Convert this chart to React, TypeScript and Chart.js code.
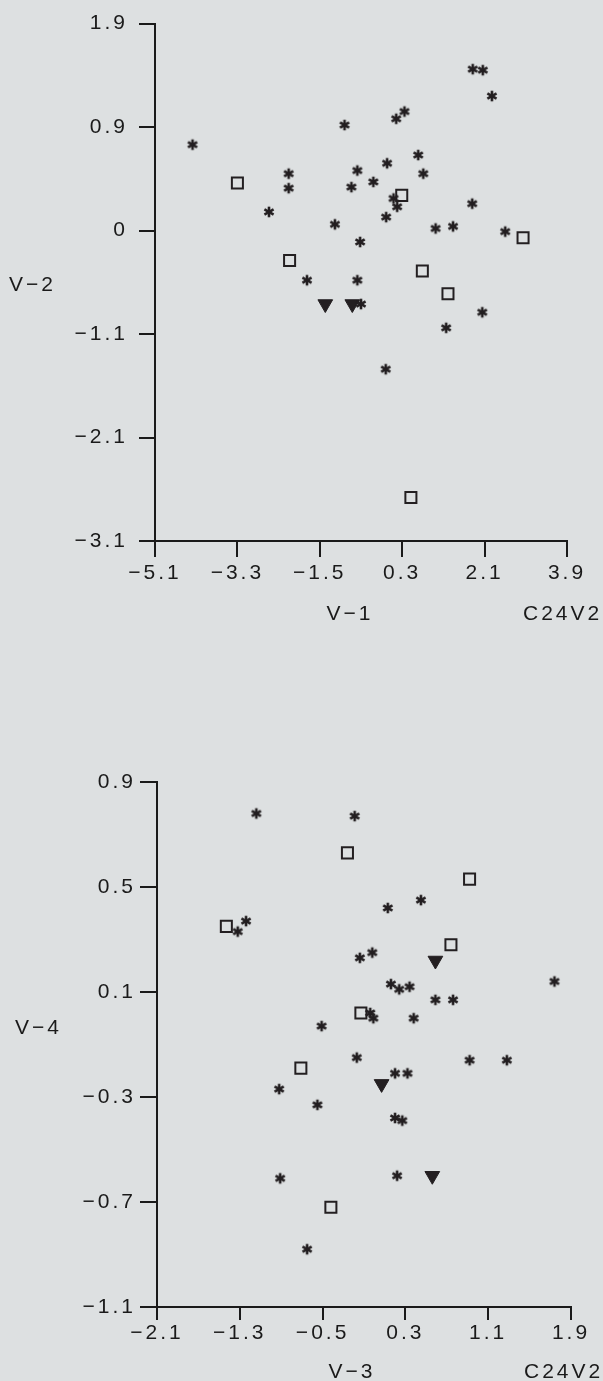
import { useEffect, useRef } from 'react';
import { Chart, registerables } from 'chart.js';

Chart.register(...registerables);

// ---------- V-1 / V-2 plane ----------
const v1v2Stars: [number, number][] = [
  [-4.28, 0.73], [-0.96, 0.92], [0.17, 0.98], [0.35, 1.05], [1.84, 1.46],
  [2.06, 1.45], [2.26, 1.2], [-2.18, 0.45], [-2.18, 0.31], [-0.68, 0.48],
  [-0.03, 0.55], [0.65, 0.63], [0.76, 0.45], [-0.33, 0.37], [-0.81, 0.32],
  [0.11, 0.21], [0.19, 0.13], [-0.05, 0.03], [-2.61, 0.08], [-1.17, -0.04],
  [1.83, 0.16], [1.03, -0.08], [1.41, -0.06], [2.55, -0.11], [-0.62, -0.21],
  [-1.78, -0.58], [-0.68, -0.58], [-0.6, -0.81], [2.05, -0.89], [1.26, -1.04],
  [-0.06, -1.44],
];
const v1v2Squares: [number, number][] = [
  [-3.3, 0.36], [0.29, 0.24], [2.94, -0.17], [-2.16, -0.39], [0.74, -0.49],
  [1.3, -0.71], [0.49, -2.68],
];
const v1v2Triangles: [number, number][] = [
  [-1.38, -0.81], [-0.79, -0.81],
];
const v1Ticks = [-5.1, -3.3, -1.5, 0.3, 2.1, 3.9];
const v1TickLabels = ['−5.1', '−3.3', '−1.5', '0.3', '2.1', '3.9'];
const v2Ticks = [-3.1, -2.1, -1.1, -0.1, 0.9, 1.9];
const v2TickLabels = ['−3.1', '−2.1', '−1.1', '0', '0.9', '1.9'];

// ---------- V-3 / V-4 plane ----------
const v3v4Stars: [number, number][] = [
  [-1.14, 0.78], [-0.19, 0.77], [-1.24, 0.37], [-1.32, 0.33], [0.13, 0.42],
  [0.45, 0.45], [-0.14, 0.23], [-0.02, 0.25], [0.16, 0.13], [0.24, 0.11],
  [0.34, 0.12], [0.59, 0.07], [0.76, 0.07], [-0.04, 0.02], [-0.01, 0.0],
  [0.38, 0.0], [-0.51, -0.03], [1.74, 0.14], [-0.17, -0.15], [0.2, -0.21],
  [0.32, -0.21], [0.92, -0.16], [1.28, -0.16], [-0.92, -0.27], [-0.55, -0.33],
  [0.2, -0.38], [0.27, -0.39], [-0.91, -0.61], [0.22, -0.6], [-0.65, -0.88],
];
const v3v4Squares: [number, number][] = [
  [-0.26, 0.63], [0.92, 0.53], [-1.43, 0.35], [0.74, 0.28], [-0.13, 0.02],
  [-0.71, -0.19], [-0.42, -0.72],
];
const v3v4Triangles: [number, number][] = [
  [0.59, 0.22], [0.07, -0.25], [0.56, -0.6],
];
const v3Ticks = [-2.1, -1.3, -0.5, 0.3, 1.1, 1.9];
const v3TickLabels = ['−2.1', '−1.3', '−0.5', '0.3', '1.1', '1.9'];
const v4Ticks = [-1.1, -0.7, -0.3, 0.1, 0.5, 0.9];
const v4TickLabels = ['−1.1', '−0.7', '−0.3', '0.1', '0.5', '0.9'];

const INK = '#231f21';
const AXIS = '#1a1a1a';
const PAPER = '#dde0e1';
const FONT = "'Liberation Sans', Arial, Helvetica, sans-serif";
const FONT_SIZE = 21;

// six-armed asterisk used for the main group
function asteriskMarker(): HTMLCanvasElement {
  const c = document.createElement('canvas');
  c.width = 14;
  c.height = 14;
  const g = c.getContext('2d')!;
  g.strokeStyle = INK;
  g.lineWidth = 2.6;
  const r = 5.3;
  for (const deg of [90, 30, 150]) {
    const a = (deg * Math.PI) / 180;
    g.beginPath();
    g.moveTo(7 - r * Math.cos(a), 7 - r * Math.sin(a));
    g.lineTo(7 + r * Math.cos(a), 7 + r * Math.sin(a));
    g.stroke();
  }
  return c;
}

type TitleSpec = { text: string; x: number; y: number; align: CanvasTextAlign };

type PanelSpec = {
  top: number;
  height: number;
  stars: [number, number][];
  squares: [number, number][];
  triangles: [number, number][];
  xTicks: number[];
  xLabels: string[];
  yTicks: number[];
  yLabels: string[];
  area: { left: number; top: number; right: number; bottom: number };
  xTickLen: number;
  yTickLen: number;
  xPad: number;
  yPad: number;
  titles: TitleSpec[];
};

const toPoints = (arr: [number, number][]) => arr.map(([x, y]) => ({ x, y }));

function Panel({ spec }: { spec: PanelSpec }) {
  const ref = useRef<HTMLCanvasElement | null>(null);

  useEffect(() => {
    const canvas = ref.current;
    if (!canvas) return;
    const W = 603;
    const xBoxH = 60;
    const { area } = spec;

    const textPlugin = {
      id: 'panelText',
      beforeDraw(chart: any) {
        chart.ctx.letterSpacing = '3px';
      },
      afterDraw(chart: any) {
        const ctx = chart.ctx as CanvasRenderingContext2D;
        ctx.save();
        (ctx as any).letterSpacing = '3px';
        ctx.font = `${FONT_SIZE}px ${FONT}`;
        ctx.fillStyle = AXIS;
        ctx.textBaseline = 'middle';
        for (const t of spec.titles) {
          ctx.textAlign = t.align;
          ctx.fillText(t.text, t.x, t.y);
        }
        ctx.restore();
      },
    };

    const tickFont = { family: FONT, size: FONT_SIZE };

    const chart = new Chart(canvas, {
      type: 'scatter',
      data: {
        datasets: [
          {
            data: toPoints(spec.stars),
            pointStyle: asteriskMarker(),
            pointRadius: 6,
            borderColor: INK,
            backgroundColor: INK,
          },
          {
            data: toPoints(spec.squares),
            pointStyle: 'rect',
            pointRadius: 7.8,
            borderWidth: 2,
            borderColor: INK,
            backgroundColor: 'rgba(0,0,0,0)',
          },
          {
            data: toPoints(spec.triangles),
            pointStyle: 'triangle',
            rotation: 180,
            pointRadius: 8.5,
            borderWidth: 1,
            borderColor: INK,
            backgroundColor: INK,
          },
        ],
      },
      options: {
        responsive: false,
        animation: false,
        devicePixelRatio: 1,
        layout: {
          autoPadding: false,
          padding: {
            left: 0,
            top: area.top,
            right: W - area.right,
            bottom: spec.height - area.bottom - xBoxH,
          },
        },
        plugins: {
          legend: { display: false },
          tooltip: { enabled: false },
        },
        scales: {
          x: {
            type: 'linear',
            min: spec.xTicks[0],
            max: spec.xTicks[spec.xTicks.length - 1],
            afterBuildTicks: (s: any) => {
              s.ticks = spec.xTicks.map((v) => ({ value: v }));
            },
            afterFit: (s: any) => {
              s.height = xBoxH;
            },
            ticks: {
              autoSkip: false,
              maxRotation: 0,
              minRotation: 0,
              padding: spec.xPad,
              color: AXIS,
              font: tickFont,
              callback: (_v: any, i: number) => spec.xLabels[i],
            },
            grid: {
              drawOnChartArea: false,
              drawTicks: true,
              tickLength: spec.xTickLen,
              tickColor: AXIS,
              tickWidth: 2,
              color: AXIS,
              lineWidth: 2,
            },
            border: { display: true, color: AXIS, width: 2 },
          },
          y: {
            type: 'linear',
            min: spec.yTicks[0],
            max: spec.yTicks[spec.yTicks.length - 1],
            afterBuildTicks: (s: any) => {
              s.ticks = spec.yTicks.map((v) => ({ value: v }));
            },
            afterFit: (s: any) => {
              s.width = area.left;
            },
            ticks: {
              autoSkip: false,
              padding: spec.yPad,
              color: AXIS,
              font: tickFont,
              callback: (_v: any, i: number) => spec.yLabels[i],
            },
            grid: {
              drawOnChartArea: false,
              drawTicks: true,
              tickLength: spec.yTickLen,
              tickColor: AXIS,
              tickWidth: 2,
              color: AXIS,
              lineWidth: 2,
            },
            border: { display: true, color: AXIS, width: 2 },
          },
        },
      } as any,
      plugins: [textPlugin],
    });

    return () => chart.destroy();
  }, [spec]);

  return (
    <canvas
      ref={ref}
      width={603}
      height={spec.height}
      style={{ position: 'absolute', left: 0, top: spec.top, width: 603, height: spec.height }}
    />
  );
}

const upperPanel: PanelSpec = {
  top: 0,
  height: 690,
  stars: v1v2Stars,
  squares: v1v2Squares,
  triangles: v1v2Triangles,
  xTicks: v1Ticks,
  xLabels: v1TickLabels,
  yTicks: v2Ticks,
  yLabels: v2TickLabels,
  area: { left: 155, top: 18, right: 567, bottom: 541 },
  xTickLen: 16,
  yTickLen: 16,
  xPad: 4,
  yPad: 11,
  titles: [
    { text: 'V−2', x: 9, y: 285, align: 'left' },
    { text: 'V−1', x: 350, y: 614, align: 'center' },
    { text: 'C24V2', x: 523, y: 614, align: 'left' },
  ],
};

const lowerPanel: PanelSpec = {
  top: 690,
  height: 691,
  stars: v3v4Stars,
  squares: v3v4Squares,
  triangles: v3v4Triangles,
  xTicks: v3Ticks,
  xLabels: v3TickLabels,
  yTicks: v4Ticks,
  yLabels: v4TickLabels,
  area: { left: 157, top: 92, right: 571, bottom: 617 },
  xTickLen: 13,
  yTickLen: 17,
  xPad: 1,
  yPad: 4,
  titles: [
    { text: 'V−4', x: 15, y: 338, align: 'left' },
    { text: 'V−3', x: 352, y: 682, align: 'center' },
    { text: 'C24V2', x: 524, y: 682, align: 'left' },
  ],
};

export default function App() {
  return (
    <div
      style={{
        position: 'absolute',
        left: 0,
        top: 0,
        width: 603,
        height: 1381,
        background: PAPER,
        overflow: 'hidden',
      }}
    >
      <Panel spec={upperPanel} />
      <Panel spec={lowerPanel} />
    </div>
  );
}
